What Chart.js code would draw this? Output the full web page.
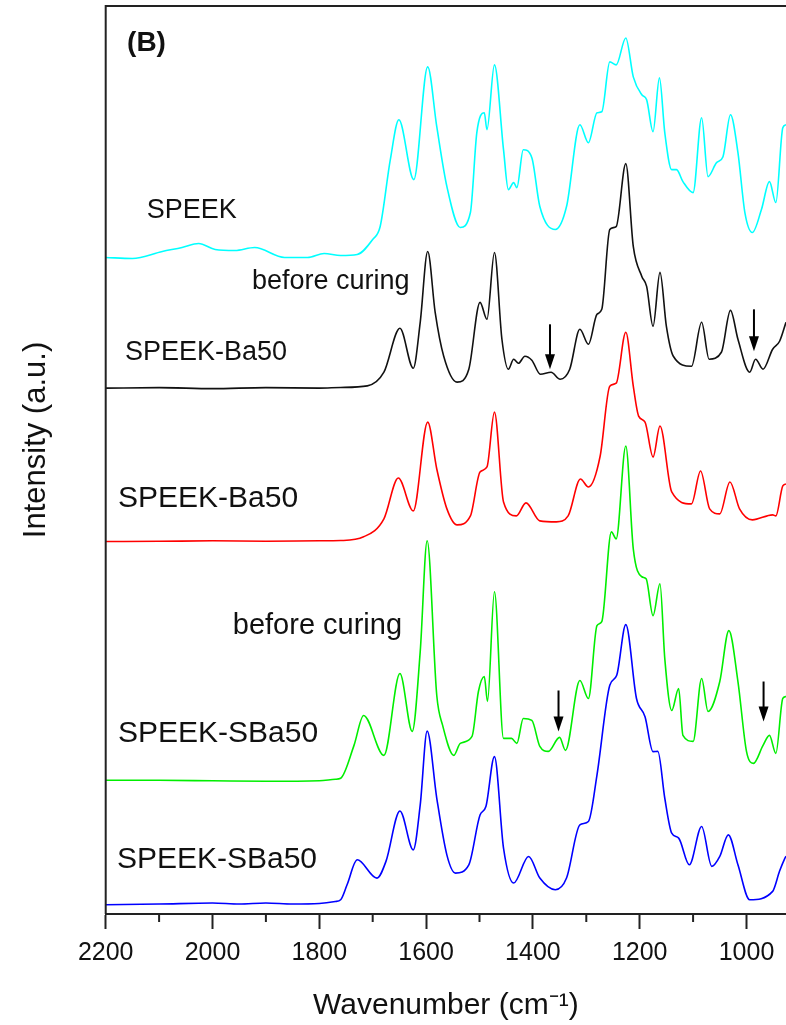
<!DOCTYPE html>
<html>
<head>
<meta charset="utf-8">
<title>FTIR spectra (B)</title>
<script src="https://cdn.jsdelivr.net/npm/chart.js@4.4.0/dist/chart.umd.min.js"></script>
<style>
  body { margin: 0; background: #fff; }
  canvas { display: block; }
</style>
</head>
<body>
<canvas id="spectra" width="786" height="1025"></canvas>
<script>
// ===== DATA (wavenumber in cm-1, intensity in arbitrary stacked units) =====
const tickVals = [2200, 2000, 1800, 1600, 1400, 1200, 1000];
const minorTicks = [2100, 1900, 1700, 1500, 1300, 1100];

// SPEEK (cyan)
const wnSpeek = [2200, 2150, 2094, 2057, 2026, 1995, 1958, 1921, 1865, 1822, 1791, 1760, 1729, 1700, 1686, 1667, 1651, 1623, 1597, 1580, 1561, 1536, 1517, 1505, 1491, 1486, 1472, 1455, 1446, 1436, 1430, 1418, 1402, 1387, 1358, 1337, 1312, 1296, 1280, 1271, 1256, 1244, 1226, 1212, 1196, 1187, 1175, 1163, 1153, 1140, 1131, 1119, 1100, 1084, 1072, 1056, 1044, 1030, 1016, 1003, 989, 972, 957, 945, 932, 926];
const speek = [658, 657, 664, 668, 672, 666, 665, 668, 658, 658, 662, 660, 661, 676, 689, 756, 796, 736, 849, 789, 729, 688, 703, 783, 803, 786, 851, 766, 726, 733, 728, 766, 758, 709, 686, 709, 791, 773, 803, 804, 854, 851, 878, 839, 821, 816, 784, 838, 783, 746, 746, 734, 723, 798, 739, 753, 759, 801, 763, 703, 683, 706, 734, 713, 788, 791];

// SPEEK-Ba50 before curing (black)
const wnBaPre = [2200, 2100, 2000, 1900, 1800, 1760, 1710, 1679, 1649, 1624, 1611, 1597, 1583, 1567, 1542, 1520, 1499, 1486, 1472, 1458, 1446, 1436, 1427, 1415, 1402, 1386, 1366, 1349, 1331, 1312, 1296, 1280, 1271, 1256, 1244, 1226, 1212, 1196, 1187, 1175, 1162, 1150, 1137, 1103, 1084, 1070, 1047, 1030, 1016, 994, 983, 969, 951, 938, 926];
const baPre = [527, 527.5, 526.5, 527.5, 527, 527.7, 529.3, 543, 587, 547, 593, 664, 603, 559, 533, 546, 613, 596, 663, 576, 546, 556, 552, 559, 555, 541, 543, 536, 546, 586, 571, 601, 606, 686, 689, 752, 669, 639, 629, 589, 643, 589, 559, 549, 593, 556, 563, 605, 576, 543, 556, 546, 566, 574, 593];

// SPEEK-Ba50 (red)
const wnBa = [2200, 2100, 2000, 1900, 1800, 1760, 1717, 1679, 1652, 1624, 1597, 1580, 1561, 1542, 1517, 1499, 1486, 1472, 1455, 1431, 1413, 1387, 1356, 1334, 1311, 1296, 1274, 1256, 1244, 1226, 1212, 1202, 1190, 1175, 1162, 1140, 1103, 1086, 1069, 1050, 1031, 1013, 989, 951, 945, 932, 926];
const ba = [373.3, 373.5, 374, 373.5, 374, 374.3, 378, 396, 437, 404, 493, 446, 406, 390, 399, 443, 448, 503, 413, 399, 412, 394, 393, 399, 436, 428, 459, 529, 532, 583, 529, 499, 493, 458, 489, 423, 411, 444, 406, 401, 433, 406, 395, 400, 399, 429, 431];

// SPEEK-SBa50 before curing (green)
const wnSBaPre = [2200, 2100, 2000, 1900, 1800, 1770, 1760, 1735, 1717, 1679, 1649, 1626, 1611, 1598, 1580, 1569, 1548, 1536, 1514, 1502, 1491, 1485, 1472, 1455, 1440, 1430, 1418, 1402, 1387, 1371, 1350, 1339, 1312, 1296, 1280, 1271, 1253, 1244, 1226, 1212, 1196, 1188, 1175, 1162, 1153, 1140, 1127, 1119, 1100, 1084, 1072, 1050, 1033, 1016, 1000, 987, 969, 957, 945, 932, 926];
const sbaPre = [134, 134, 133.5, 133, 133.5, 135, 136, 169, 199, 159, 241, 183, 263, 374, 219, 189, 159, 171, 178, 223, 238, 213, 323, 176, 176, 171, 196, 194, 168, 163, 177, 164, 234, 216, 289, 293, 383, 376, 469, 366, 338, 336, 299, 331, 256, 204, 226, 179, 173, 236, 203, 233, 284, 233, 163, 151, 169, 179, 161, 216, 218];

// SPEEK-SBa50 (blue)
const wnSBa = [2200, 2100, 2000, 1950, 1900, 1850, 1800, 1770, 1760, 1748, 1729, 1692, 1675, 1649, 1624, 1611, 1598, 1580, 1561, 1545, 1520, 1499, 1488, 1472, 1455, 1436, 1408, 1387, 1358, 1337, 1312, 1296, 1280, 1256, 1243, 1226, 1206, 1190, 1175, 1166, 1153, 1140, 1127, 1107, 1084, 1065, 1050, 1034, 1016, 994, 951, 938, 928, 926];
const sba = [9.3, 10, 11, 10, 11, 10, 10.5, 12.5, 14.3, 29.3, 54.3, 36, 53, 103.3, 64.3, 109.3, 183.3, 116, 59, 41, 49.3, 99.3, 107.7, 157.7, 66, 31, 57.7, 36, 24.3, 36, 89.3, 92.7, 139.3, 229.3, 239.3, 290, 216, 197.7, 162.7, 163, 116, 81, 76, 49.3, 87.7, 47.7, 57.7, 79.3, 49.3, 14.3, 22.7, 43, 56, 58];

// curve labels (position in data units)
const labelTexts = ['(B)', 'SPEEK', 'before curing', 'SPEEK-Ba50', 'SPEEK-Ba50', 'before curing', 'SPEEK-SBa50', 'SPEEK-SBa50'];
const labelWn = [2160, 2123, 1926, 2164, 2177, 1962, 2177, 2179];
const labelVal = [873, 705, 634, 563, 416, 289, 181, 54];
const labelSize = [28, 27, 27, 27, 30, 29, 30, 30];
const labelBold = [true, false, false, false, false, false, false, false];

// arrows marking the bands that disappear on curing
const arrowWn = [1368, 986, 1352, 968];
const arrowTop = [591, 606, 224, 233];
const arrowTip = [546, 564, 183, 193];

const FONT = "'Liberation Sans', Arial, Helvetica, sans-serif";
Chart.defaults.font.family = FONT;
Chart.defaults.color = '#111';

function serie(wn, vals, color) {
  return {
    data: wn.map((w, i) => ({ x: w, y: vals[i] })),
    borderColor: color,
    borderWidth: 1.6,
    pointRadius: 0,
    fill: false,
    cubicInterpolationMode: 'monotone'
  };
}

// marco, ticks menores, etiquetas y flechas
const extras = {
  id: 'extras',
  afterDraw(chart) {
    const { ctx, chartArea: a, scales: { x, y } } = chart;
    ctx.save();
    ctx.strokeStyle = '#222';
    ctx.lineWidth = 2;
    ctx.beginPath();
    ctx.moveTo(a.left, a.bottom);
    ctx.lineTo(a.left, a.top);
    ctx.lineTo(a.right, a.top);
    ctx.stroke();

    minorTicks.forEach(v => {
      const px = x.getPixelForValue(v);
      ctx.beginPath();
      ctx.moveTo(px, a.bottom);
      ctx.lineTo(px, a.bottom + 8);
      ctx.stroke();
    });

    ctx.fillStyle = '#111';
    ctx.textBaseline = 'middle';
    ctx.textAlign = 'left';
    labelTexts.forEach((t, i) => {
      ctx.font = (labelBold[i] ? 'bold ' : '') + labelSize[i] + 'px ' + FONT;
      ctx.fillText(t, x.getPixelForValue(labelWn[i]), y.getPixelForValue(labelVal[i]));
    });

    arrowWn.forEach((w, i) => {
      const px = x.getPixelForValue(w);
      const top = y.getPixelForValue(arrowTop[i]);
      const tip = y.getPixelForValue(arrowTip[i]);
      ctx.lineWidth = 2;
      ctx.strokeStyle = '#000';
      ctx.beginPath();
      ctx.moveTo(px, top);
      ctx.lineTo(px, tip - 10);
      ctx.stroke();
      ctx.fillStyle = '#000';
      ctx.beginPath();
      ctx.moveTo(px - 5, tip - 15);
      ctx.lineTo(px + 5, tip - 15);
      ctx.lineTo(px, tip);
      ctx.closePath();
      ctx.fill();
    });

    ctx.translate(36, 440);
    ctx.rotate(-Math.PI / 2);
    ctx.textAlign = 'center';
    ctx.fillStyle = '#111';
    ctx.font = '31px ' + FONT;
    ctx.fillText('Intensity (a.u.)', 0, 0);
    ctx.restore();
  }
};

new Chart(document.getElementById('spectra'), {
  type: 'line',
  data: {
    datasets: [
      serie(wnSpeek, speek, '#00ffff'),
      serie(wnBaPre, baPre, '#111111'),
      serie(wnBa, ba, '#ff0000'),
      serie(wnSBaPre, sbaPre, '#00ee00'),
      serie(wnSBa, sba, '#0000ff')
    ]
  },
  options: {
    responsive: false,
    animation: false,
    layout: { padding: { left: 105.7, top: 6, right: 0, bottom: 0 } },
    plugins: { legend: { display: false }, tooltip: { enabled: false } },
    scales: {
      x: {
        type: 'linear',
        min: 926,
        max: 2200,
        reverse: true,
        afterBuildTicks: s => { s.ticks = tickVals.map(v => ({ value: v })); },
        grid: { drawOnChartArea: false, tickLength: 15, tickWidth: 2, tickColor: '#222' },
        border: { display: true, width: 2, color: '#222' },
        ticks: {
          padding: 9,
          font: { size: 25 },
          color: '#111',
          maxRotation: 0,
          autoSkip: false,
          callback: v => String(v)
        },
        title: {
          display: true,
          text: 'Wavenumber (cm⁻¹)',
          font: { size: 30 },
          color: '#111',
          padding: { top: 11, bottom: 1 }
        }
      },
      y: { display: false, min: 0, max: 910 }
    }
  },
  plugins: [extras]
});
</script>
</body>
</html>
